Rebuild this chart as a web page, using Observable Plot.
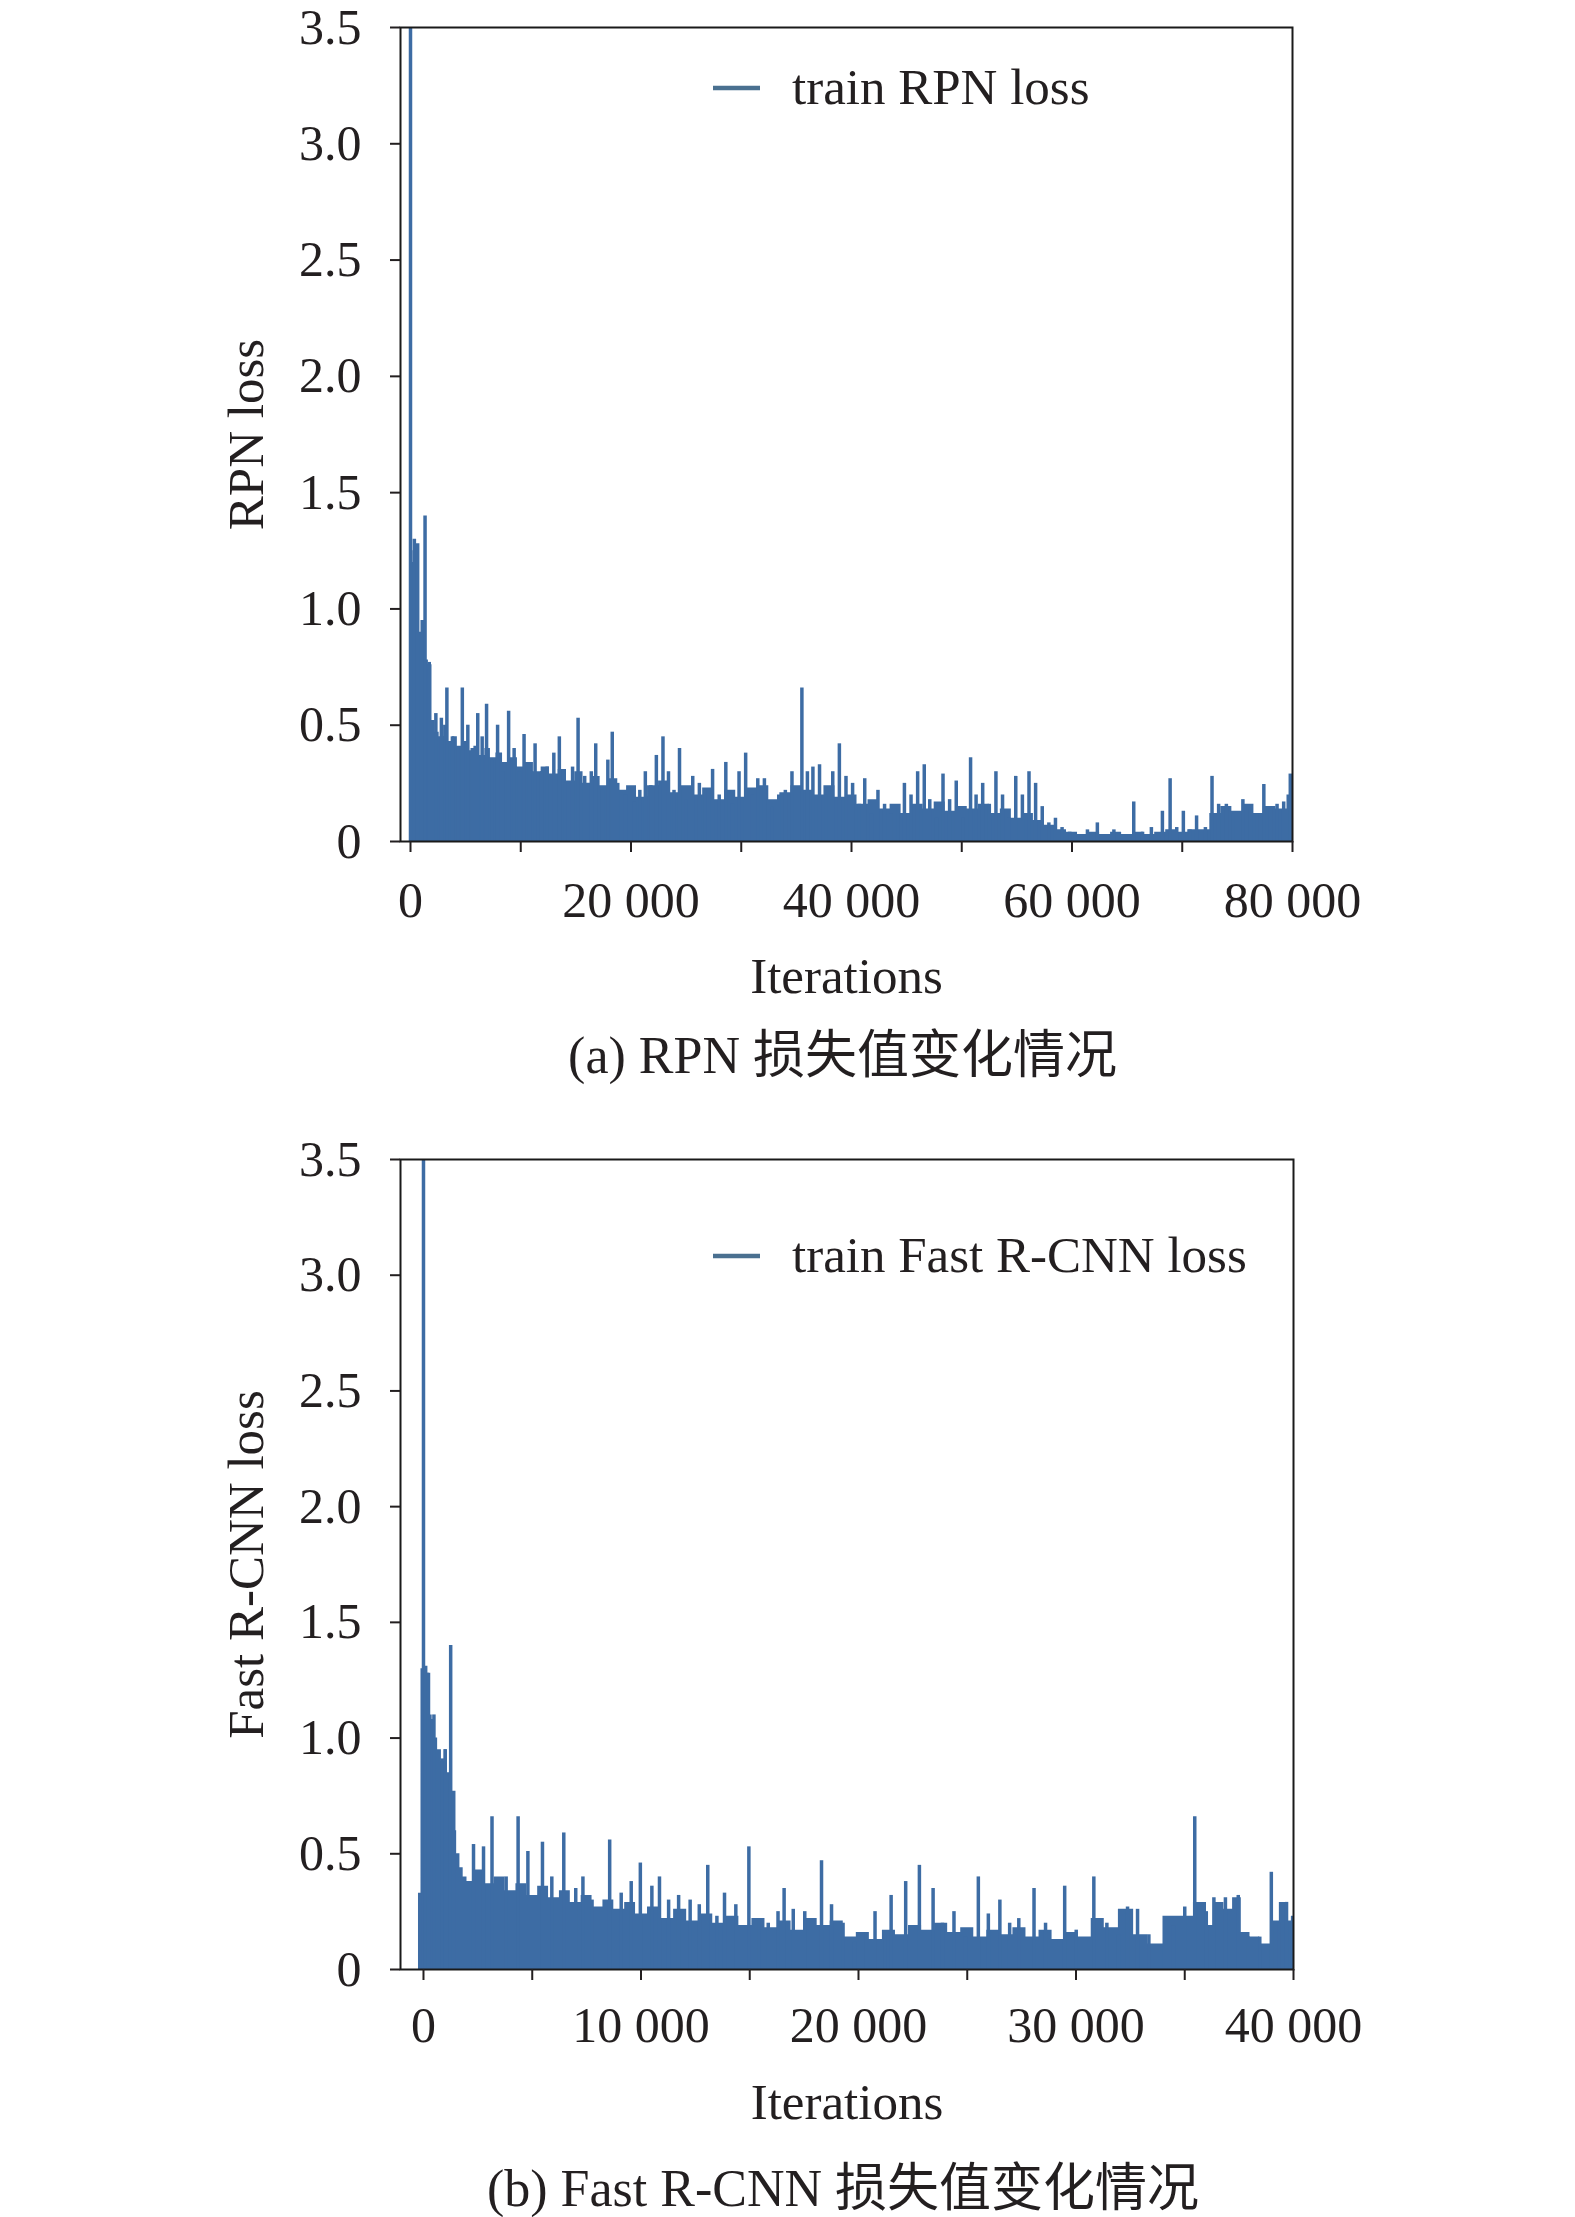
<!DOCTYPE html>
<html>
<head>
<meta charset="utf-8">
<script src="https://cdn.jsdelivr.net/npm/d3@7"></script>
<script src="https://cdn.jsdelivr.net/npm/@observablehq/plot@0.6"></script>
<style>
  html, body { margin: 0; padding: 0; background: #ffffff; }
  #chart svg { display: block; }
</style>
</head>
<body>
<div id="chart"></div>
<script>
// ---------- tick values and labels ----------
const yTicks = [0, 0.5, 1, 1.5, 2, 2.5, 3, 3.5];
const yTickLabels = ["0", "0.5", "1.0", "1.5", "2.0", "2.5", "3.0", "3.5"];
const rpnXTicks = [0, 10000, 20000, 30000, 40000, 50000, 60000, 70000, 80000];
const rpnXLabels = ["0", "", "20 000", "", "40 000", "", "60 000", "", "80 000"];
const fastXTicks = [0, 5000, 10000, 15000, 20000, 25000, 30000, 35000, 40000];
const fastXLabels = ["0", "", "10 000", "", "20 000", "", "30 000", "", "40 000"];

// ---------- texts ----------
const xAxisLabel = "Iterations";
const rpnYLabel = "RPN loss";
const fastYLabel = "Fast R-CNN loss";
const rpnLegend = "train RPN loss";
const fastLegend = "train Fast R-CNN loss";
const rpnCaption = "(a) RPN 损失值变化情况";
const fastCaption = "(b) Fast R-CNN 损失值变化情况";

// ---------- RPN loss: dense body [iteration, loss] ----------
const rpnBody = [
  [0,1.2],[450,1.25],[800,0.9],[1100,0.95],[1450,0.78],[1800,0.76],[2100,0.52],[2400,0.47],
  [2800,0.45],[3200,0.5],[3600,0.43],[4000,0.45],[4500,0.41],[5000,0.43],[5500,0.39],[6000,0.41],
  [6500,0.37],[7000,0.4],[7500,0.36],[8000,0.38],[8700,0.34],[9400,0.36],[10000,0.32],[10800,0.34],
  [11500,0.3],[12200,0.32],[13000,0.29],[13800,0.31],[14500,0.26],[15300,0.3],[16000,0.25],[16800,0.28],
  [17600,0.24],[18400,0.27],[19200,0.22],[20000,0.24],[21000,0.19],[22000,0.24],[23000,0.26],[24000,0.21],
  [25000,0.24],[26000,0.2],[27000,0.23],[28000,0.18],[29000,0.22],[30000,0.19],[31000,0.23],[32000,0.24],
  [33000,0.18],[34000,0.21],[35000,0.24],[36000,0.22],[37000,0.2],[38000,0.24],[39000,0.19],[40000,0.2],
  [41000,0.16],[42000,0.18],[43000,0.14],[44000,0.16],[45000,0.12],[46000,0.16],[47000,0.14],[48000,0.17],
  [49000,0.13],[50000,0.15],[51000,0.14],[52000,0.16],[53000,0.12],[54000,0.14],[55000,0.1],[56000,0.12],
  [57000,0.09],[58000,0.07],[59000,0.05],[60000,0.04],[61000,0.03],[62000,0.04],[63000,0.03],[64000,0.04],
  [65000,0.03],[66000,0.04],[67000,0.03],[68000,0.04],[69000,0.05],[70000,0.04],[71000,0.05],[72000,0.05],
  [73000,0.12],[74000,0.15],[75000,0.13],[76000,0.16],[77000,0.12],[78000,0.15],[79000,0.14],[80000,0.2]
];
// ---------- RPN loss: spikes [iteration, loss] ----------
const rpnSpikes = [
  [0,3.8],[350,1.3],[650,1.28],[1320,1.4],[1700,0.77],
  [2300,0.55],[2800,0.53],[3300,0.66],[3800,0.45],[4300,0.4],[4700,0.66],[5200,0.5],[5600,0.4],
  [6100,0.55],[6500,0.45],[6900,0.59],[7400,0.35],[7900,0.5],[8400,0.3],[8900,0.56],[9400,0.4],
  [9900,0.3],[10300,0.46],[10800,0.33],[11300,0.42],[11900,0.3],[12400,0.32],[13000,0.38],[13500,0.45],
  [14000,0.25],[14700,0.32],[15200,0.53],[15800,0.28],[16400,0.3],[16800,0.42],[17400,0.22],[17900,0.35],
  [18300,0.47],[18800,0.25],[19500,0.2],[20300,0.17],[20800,0.22],[21300,0.3],[21800,0.24],[22300,0.37],
  [22900,0.45],[23400,0.3],[23900,0.22],[24400,0.4],[25000,0.18],[25600,0.28],[26200,0.25],[26700,0.22],
  [27400,0.31],[28000,0.2],[28600,0.34],[29200,0.16],[29800,0.3],[30400,0.38],[31000,0.2],[31500,0.27],
  [32100,0.27],[32800,0.15],[33400,0.2],[34000,0.22],[34600,0.3],[35500,0.66],[36000,0.3],[36500,0.32],
  [37100,0.33],[37700,0.2],[38300,0.3],[38900,0.42],[39500,0.28],[40100,0.25],[40700,0.16],[41200,0.27],
  [41800,0.12],[42400,0.22],[43000,0.16],[43600,0.12],[44200,0.14],[44800,0.25],[45400,0.2],[46000,0.3],
  [46600,0.33],[47100,0.18],[47700,0.1],[48300,0.29],[48900,0.18],[49500,0.26],[50100,0.1],[50800,0.36],
  [51300,0.2],[51900,0.25],[52500,0.16],[53100,0.3],[53700,0.2],[54300,0.1],[54900,0.28],[55500,0.2],
  [56100,0.3],[56700,0.25],[57300,0.15],[57900,0.08],[58500,0.1],[59100,0.06],[59800,0.04],[61400,0.05],
  [62300,0.08],[63800,0.05],[65600,0.17],[66400,0.04],[67200,0.06],[68200,0.13],[68900,0.27],[69500,0.06],
  [70100,0.13],[70700,0.05],[71300,0.11],[72100,0.06],[72700,0.28],[73300,0.16],[74000,0.16],[74600,0.12],
  [75500,0.18],[76200,0.14],[76800,0.12],[77400,0.245],[78000,0.14],[78600,0.16],[79200,0.17],[79800,0.29]
];

// ---------- Fast R-CNN loss: dense body [iteration, loss] ----------
const fastBody = [
  [-230,0.33],[0,1.3],[200,1.28],[350,1.1],[450,1.08],[550,1.0],[750,0.95],[900,0.9],
  [1000,0.95],[1150,0.85],[1300,0.75],[1450,0.6],[1600,0.5],[1750,0.44],[1900,0.4],[2100,0.38],
  [2500,0.43],[3000,0.37],[3500,0.4],[4000,0.34],[4500,0.37],[5000,0.32],[5500,0.36],[6000,0.31],
  [6500,0.34],[7000,0.29],[7500,0.32],[8000,0.27],[8500,0.3],[9000,0.26],[9500,0.29],[10000,0.24],
  [10600,0.27],[11200,0.22],[11800,0.26],[12400,0.21],[13000,0.24],[13600,0.2],[14200,0.23],[14800,0.19],
  [15400,0.22],[16000,0.18],[16600,0.21],[17200,0.17],[17800,0.22],[18400,0.19],[19000,0.21],[19600,0.14],
  [20200,0.16],[20800,0.13],[21400,0.17],[22000,0.15],[22600,0.19],[23200,0.17],[23800,0.2],[24400,0.16],
  [25000,0.18],[25600,0.14],[26200,0.17],[26800,0.15],[27400,0.18],[28000,0.14],[28600,0.17],[29200,0.13],
  [29800,0.16],[30400,0.14],[31000,0.22],[31600,0.18],[32300,0.26],[33000,0.15],[33600,0.11],[34400,0.23],
  [35000,0.23],[35800,0.29],[36200,0.19],[36600,0.29],[37000,0.26],[37400,0.31],[37800,0.16],[38200,0.14],
  [38700,0.11],[39200,0.21],[39500,0.29],[39800,0.21],[40000,0.21]
];
// ---------- Fast R-CNN loss: spikes [iteration, loss] ----------
const fastSpikes = [
  [0,3.8],[100,1.31],[230,1.28],[480,1.1],[860,0.91],[1000,0.95],[1250,1.4],[1390,0.77],
  [2300,0.54],[2760,0.53],[3150,0.66],[3800,0.4],[4350,0.66],[4800,0.51],[5470,0.55],[5900,0.4],
  [6450,0.59],[7000,0.35],[7330,0.4],[7750,0.3],[8560,0.56],[9090,0.33],[9550,0.38],[9970,0.46],
  [10500,0.36],[10850,0.4],[11270,0.3],[11730,0.32],[12260,0.3],[12680,0.28],[13070,0.45],[13490,0.23],
  [13840,0.33],[14360,0.28],[14960,0.53],[15420,0.22],[15850,0.2],[16300,0.25],[16580,0.35],[17000,0.26],
  [17530,0.25],[18300,0.47],[18760,0.28],[19290,0.2],[19820,0.12],[20340,0.16],[20760,0.25],[21220,0.15],
  [21500,0.32],[22170,0.38],[22800,0.45],[23430,0.35],[23860,0.2],[24390,0.25],[24920,0.14],[25510,0.4],
  [25970,0.24],[26500,0.3],[26950,0.2],[27370,0.22],[28070,0.35],[28600,0.2],[29480,0.36],[30010,0.17],
  [30820,0.4],[31420,0.2],[31950,0.15],[32370,0.27],[32830,0.26],[33350,0.15],[33880,0.1],[34480,0.19],
  [35000,0.27],[35460,0.66],[35990,0.25],[36340,0.31],[36870,0.31],[37460,0.32],[37920,0.14],[38450,0.14],
  [38980,0.42],[39330,0.2],[39680,0.29],[39960,0.23]
];

const BLUE = "#3d6ca4";
const LEGEND_BLUE = "#4a7090";
const INK = "#231f20";
const SERIF = "'Liberation Serif', 'Times New Roman', serif";
const CAPTION_FONT = "'Liberation Serif', 'Noto Sans CJK SC', serif";

function legendMark(label, lineDy, textDy) {
  return (index, scales, values, dims) => {
    const g = d3.create("svg:g");
    const x0 = dims.marginLeft, y0 = dims.marginTop;
    g.append("line")
      .attr("x1", x0 + 313).attr("x2", x0 + 360)
      .attr("y1", y0 + lineDy).attr("y2", y0 + lineDy)
      .attr("stroke", LEGEND_BLUE).attr("stroke-width", 4.5);
    g.append("text")
      .attr("x", x0 + 392).attr("y", y0 + textDy)
      .attr("text-anchor", "start")
      .attr("font-size", 51).attr("fill", "currentColor")
      .attr("font-family", SERIF)
      .text(label);
    return g.node();
  };
}

function makeChart(cfg) {
  return Plot.plot({
    width: 1575,
    height: cfg.height,
    marginTop: cfg.marginTop,
    marginBottom: cfg.marginBottom,
    marginLeft: 400,
    marginRight: cfg.marginRight,
    style: { fontFamily: SERIF, fontSize: "50px", color: INK, background: "#ffffff" },
    x: { type: "linear", domain: cfg.xDomain },
    y: { type: "linear", domain: [0, 3.5] },
    marks: [
      Plot.areaY(cfg.body, { x: d => d[0], y: d => d[1], curve: "step", fill: BLUE, clip: true }),
      Plot.ruleX(cfg.spikes, { x: d => d[0], y1: 0, y2: d => d[1], stroke: BLUE, strokeWidth: 3.5, clip: true }),
      Plot.frame({ stroke: "#1a1a1a", strokeWidth: 2 }),
      Plot.axisY({
        ticks: yTicks, tickFormat: d => yTickLabels[yTicks.indexOf(d)],
        tickSize: 10, tickPadding: 29, strokeWidth: 2, label: null, fontSize: 50
      }),
      Plot.axisX({
        ticks: cfg.xTicks, tickFormat: d => cfg.xLabels[cfg.xTicks.indexOf(d)],
        tickSize: 11, tickPadding: cfg.xPad, strokeWidth: 2, label: null, fontSize: 50
      }),
      Plot.text([xAxisLabel], { text: d => d, frameAnchor: "bottom", dy: cfg.xLabelDy, lineAnchor: "bottom", fontSize: 51 }),
      Plot.text([cfg.yLabel], { text: d => d, frameAnchor: "left", textAnchor: "middle", dx: -138, rotate: -90, lineAnchor: "bottom", fontSize: 51 }),
      Plot.text([cfg.caption], { text: d => d, frameAnchor: "bottom", dx: -4, dy: cfg.captionDy, lineAnchor: "bottom", fontSize: 52, fontFamily: CAPTION_FONT }),
      legendMark(cfg.legend, cfg.legendLineDy, cfg.legendTextDy)
    ]
  });
}

const chartDiv = document.getElementById("chart");
chartDiv.append(makeChart({
  height: 1110, marginTop: 27, marginBottom: 269, marginRight: 283,
  xDomain: [-907, 80000], xTicks: rpnXTicks, xLabels: rpnXLabels, xPad: 29,
  body: rpnBody, spikes: rpnSpikes,
  yLabel: rpnYLabel, caption: rpnCaption, legend: rpnLegend,
  xLabelDy: 151, captionDy: 231, legendLineDy: 61, legendTextDy: 77
}));
chartDiv.append(makeChart({
  height: 1107, marginTop: 49, marginBottom: 248, marginRight: 282,
  xDomain: [-1057, 40000], xTicks: fastXTicks, xLabels: fastXLabels, xPad: 26,
  body: fastBody, spikes: fastSpikes,
  yLabel: fastYLabel, caption: fastCaption, legend: fastLegend,
  xLabelDy: 149, captionDy: 236, legendLineDy: 97, legendTextDy: 113
}));
</script>
</body>
</html>
